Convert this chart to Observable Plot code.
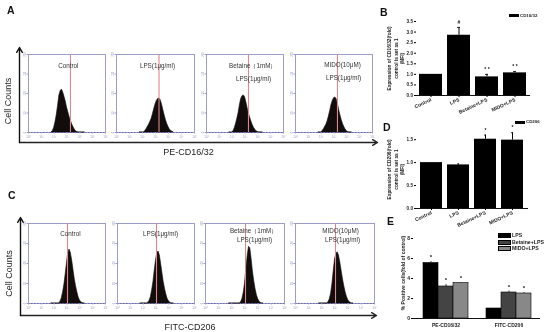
<!DOCTYPE html>
<html>
<head>
<meta charset="utf-8">
<script src="https://cdn.jsdelivr.net/npm/d3@7"></script>
<script src="https://cdn.jsdelivr.net/npm/@observablehq/plot@0.6"></script>
<style>
html,body{margin:0;padding:0;background:#fff;}
#fig{position:relative;width:550px;height:332px;overflow:hidden;font-family:"Liberation Sans",Arial,sans-serif;filter:blur(0.3px);}
#fig svg{position:absolute;overflow:visible;background:transparent;font-family:"Liberation Sans",Arial,sans-serif;}
.h{position:absolute;white-space:nowrap;line-height:1;}
</style>
</head>
<body>
<div id="fig"></div>
<script>
// ---------- Data: flow-cytometry histograms (log10 fluorescence bin -> counts)
const logBins = [1.8,1.9,2.0,2.1,2.2,2.3,2.4,2.5,2.6,2.7,2.8,2.9,3.0,3.1,3.2,3.3,3.4,3.5,3.6,3.7,3.8,3.9,4.0,4.1,4.2,4.3,4.4];
const cd16Control = [0,4,12,26,44,68,94,106,110,103,92,80,64,52,40,30,21,14,8,3,1,0,0,0,0,0,0];
const cd16Lps     = [0,0,0,0,3,8,14,20,27,35,47,60,72,81,86,87,83,72,58,44,32,22,14,8,4,2,0];
const cd16Betaine = [0,0,0,3,11,22,35,50,70,86,93,95,91,78,63,49,38,28,19,12,7,3,1,0,0,0,0];
const cd16Mido    = [0,0,0,3,8,14,20,29,41,55,70,81,88,90,86,74,58,44,32,22,14,8,3,1,0,0,0];
const cd206Control = [0,0,0,0,0,0,0,5,14,29,48,74,102,127,135,126,108,85,62,44,29,16,8,4,1,0,0];
const cd206Lps     = [0,0,0,0,0,0,2,7,16,33,54,82,108,126,130,120,99,76,54,37,23,12,6,2,0,0,0];
const cd206Betaine = [0,0,0,0,0,0,0,0,0,3,11,26,50,86,118,142,138,112,80,56,36,21,11,5,1,0,0];
const cd206Mido    = [0,0,0,0,0,0,0,3,10,24,48,80,110,124,128,120,103,82,62,44,29,17,9,4,1,0,0];
const logTicks = [0,1,2,3,4,5,6];
const logTickLabels = ["10⁰","10¹","10²","10³","10⁴","10⁵","10⁶"];
const countTicks = [0,50,100,150,200];
const gateCd16 = 3.27;
const gateCd206 = 3.04;

// ---------- Data: bar charts
const groups = ["Control","LPS","Betaine+LPS","MIDO+LPS"];
const cd16Mfi = [1.0,2.85,0.88,1.07];
const cd16Hi  = [1.0,3.22,1.0,1.13];
const cd16Sig = ["","#","* *","* *"];
const cd206Mfi = [1.0,0.95,1.51,1.49];
const cd206Hi  = [1.0,0.97,1.6,1.65];
const cd206Sig = ["","","*","*"];
const markers = ["PE-CD16/32","FITC-CD206"];
const treatments = ["LPS","Betaine+LPS","MIDO+LPS"];
const lpsPct     = [5.55,1.0];
const betainePct = [3.2,2.6];
const midoPct    = [3.55,2.5];
const lpsHi      = [5.7,1.0];
const betaineHi  = [3.4,2.75];
const midoHi     = [3.6,2.6];
const lpsSig     = ["*",""];
const betaineSig = ["*","*"];
const midoSig    = ["*","*"];

// ---------- Helpers
const fig = document.getElementById("fig");
function place(svg,left,top){svg.style.left=left+"px";svg.style.top=top+"px";fig.appendChild(svg);return svg;}
function htmlText(t,x,y,css){const d=document.createElement("div");d.className="h";d.textContent=t;d.style.left=x+"px";d.style.top=y+"px";d.style.cssText+=";"+css;fig.appendChild(d);}
function swatch(x,y,w,h,c){const d=document.createElement("div");d.style.cssText=`position:absolute;left:${x}px;top:${y}px;width:${w}px;height:${h}px;background:${c};border:0.5px solid #000;box-sizing:border-box`;fig.appendChild(d);}

const blue="#9c9cc8";
function hist(counts,gate,labels,box){
  const rows=logBins.map((b,i)=>({b,c:counts[i]}));
  place(Plot.plot({
    width:box.w,height:box.h,margin:0,
    x:{domain:[0,6]},y:{domain:[0,200]},
    marks:[
      Plot.frame({stroke:blue,strokeWidth:1}),
      Plot.ruleY([0],{stroke:"#6a6ab0",strokeWidth:1,strokeDasharray:"1.5 1.5"}),
      Plot.areaY(rows,{x:"b",y:"c",curve:"linear",fill:"#120c0c",stroke:"#120c0c",strokeWidth:0.6}),
      Plot.ruleX([gate],{stroke:"#d98a8a",strokeWidth:1.1}),
      Plot.axisX({ticks:logTicks,tickFormat:(d,i)=>logTickLabels[i],tickSize:1.5,tickPadding:1.5,fontSize:3,stroke:blue,fill:blue,label:null}),
      Plot.axisY({ticks:countTicks,tickSize:1.5,tickPadding:1,fontSize:2.6,stroke:blue,fill:blue,label:null,tickRotate:-90}),
      Plot.text(labels,{x:"x",y:"y",text:"t",fontSize:6.3,fill:"#333"})
    ]
  }),box.x,box.y);
}

function axesFrame(box,xLabel,dxLabel,dyLabel,dyCell){
  place(Plot.plot({
    width:box.w,height:box.h,margin:0,
    x:{domain:[0,1],axis:null},y:{domain:[0,1],axis:null},
    marks:[
      Plot.arrow([{a:0,b:0,c:1,d:0}],{x1:"a",y1:"b",x2:"c",y2:"d",stroke:"#222",strokeWidth:1.4,headLength:6,bend:false}),
      Plot.arrow([{a:0,b:0,c:0,d:1}],{x1:"a",y1:"b",x2:"c",y2:"d",stroke:"#111",strokeWidth:1.4,headLength:6,bend:false}),
      Plot.text([xLabel],{frameAnchor:"bottom",dx:dxLabel,dy:dyLabel,fontSize:9,fill:"#222",lineAnchor:"bottom",textAnchor:"middle"}),
      Plot.text(["Cell Counts"],{frameAnchor:"left",dx:-11,dy:dyCell,fontSize:9,fill:"#222",rotate:-90,textAnchor:"middle"})
    ]
  }),box.x,box.y);
}

function mfiBars(values,hi,sig,box,yMax,yTicks,fmt,pads,ylines){
  const rows=groups.map((g,i)=>({g,v:values[i],h:hi[i],s:sig[i]}));
  const errs=rows.filter(r=>r.h>r.v);
  const ml=box.ml,mb=24,mt=2,mr=2;
  place(Plot.plot({
    width:box.w+ml+mr,height:box.h+mt+mb,marginLeft:ml,marginRight:mr,marginTop:mt,marginBottom:mb,
    x:{domain:groups,paddingInner:pads[0],paddingOuter:pads[1],label:null},y:{domain:[0,yMax],label:null},
    marks:[
      Plot.barY(rows,{x:"g",y:"v",fill:"#000"}),
      Plot.ruleX(errs,{x:"g",y1:"v",y2:"h",stroke:"#000",strokeWidth:1}),
      Plot.tickY(errs,{x:"g",y:"h",stroke:"#000",strokeWidth:0.8,inset:10}),
      Plot.text(rows,{x:"g",y:"h",text:"s",dy:-5,fontSize:5,fontWeight:"bold",fill:"#111"}),
      Plot.ruleY([0],{stroke:"#111",strokeWidth:1}),
      Plot.ruleX([0],{frameAnchor:"left",stroke:"#111",strokeWidth:1}),
      Plot.axisX({tickRotate:-25,tickSize:2,tickPadding:2,fontSize:5,fontWeight:"bold",fill:"#222",label:null}),
      Plot.axisY({ticks:yTicks,tickFormat:fmt,tickSize:2,tickPadding:1.5,fontSize:4.6,fontWeight:"bold",fill:"#222",label:null}),
      ...ylines.map((t,i)=>Plot.text([t],{frameAnchor:"left",dx:-27+i*6.6,fontSize:4.8,fontWeight:"bold",fill:"#222",rotate:-90,textAnchor:"middle"}))
    ]
  }),box.x-ml,box.y-mt);
}

// ---------- Histogram rows
const rowA=[
 {x:28,y:54,w:77,h:78},{x:116,y:54,w:78,h:78},{x:206,y:54,w:77,h:78},{x:295,y:54,w:77,h:78}];
const rowC=[
 {x:28,y:223,w:77,h:80},{x:117,y:223,w:77,h:80},{x:205,y:223,w:79,h:80},{x:295,y:223,w:79,h:80}];

axesFrame({x:19,y:47,w:358,h:95},"PE-CD16/32",-10,12,6);
axesFrame({x:20,y:217,w:356,h:98},"FITC-CD206",-8.5,14,7);

hist(cd16Control,gateCd16,[{x:3.1,y:170,t:"Control"}],rowA[0]);
hist(cd16Lps,gateCd16,[{x:3.15,y:170,t:"LPS(1μg/ml)"}],rowA[1]);
hist(cd16Betaine,gateCd16,[{x:3.6,y:170,t:"Betaine（1mM）"},{x:3.66,y:138,t:"LPS(1μg/ml)"}],rowA[2]);
hist(cd16Mido,gateCd16,[{x:3.66,y:173,t:"MIDO(10μM)"},{x:3.74,y:141,t:"LPS(1μg/ml)"}],rowA[3]);

hist(cd206Control,gateCd206,[{x:3.27,y:175,t:"Control"}],rowC[0]);
hist(cd206Lps,gateCd206,[{x:3.35,y:175,t:"LPS(1μg/ml)"}],rowC[1]);
hist(cd206Betaine,gateCd206,[{x:3.65,y:182,t:"Betaine（1mM）"},{x:3.72,y:160,t:"LPS(1μg/ml)"}],rowC[2]);
hist(cd206Mido,gateCd206,[{x:3.42,y:182,t:"MIDO(10μM)"},{x:3.57,y:160,t:"LPS(1μg/ml)"}],rowC[3]);

// ---------- Bars B and D
const f1=d3.format(".1f");
mfiBars(cd16Mfi,cd16Hi,cd16Sig,{x:416,y:21,w:114,h:74,ml:30},3.5,[0,.5,1,1.5,2,2.5,3,3.5],f1,[0.175,0.088],
  ["Expression of CD16/32(fold)","control is set as 1","(MFI)"]);
mfiBars(cd206Mfi,cd206Hi,cd206Sig,{x:416,y:130,w:112,h:78,ml:30},1.7,[0,.5,1,1.5],f1,[0.18,0.11],
  ["Expression of CD206(fold)","control is set as 1","(MFI)"]);

// ---------- Bars E
const series=[[lpsPct,lpsHi,lpsSig],[betainePct,betaineHi,betaineSig],[midoPct,midoHi,midoSig]];
const eRows=[];
markers.forEach((m,i)=>treatments.forEach((t,j)=>eRows.push({m,t,v:series[j][0][i],h:series[j][1][i],s:series[j][2][i]})));
const eErr=eRows.filter(r=>r.h>r.v);
const eColors=["#000000","#444444","#888888"];
const eShift=[-15,0,15];
place(Plot.plot({
  width:127+30+2,height:91+2+12,marginLeft:30,marginRight:2,marginTop:2,marginBottom:12,
  x:{axis:null,domain:markers,paddingInner:0.286,paddingOuter:0.15},
  y:{domain:[0,9.1],label:null},
  marks:[
    ...treatments.map((t,j)=>Plot.barY(eRows.filter(r=>r.t===t),{
      x:"m",y:"v",fill:eColors[j],stroke:"#000",strokeWidth:0.6,
      insetLeft:j*15,insetRight:(2-j)*15
    })),
    ...treatments.map((t,j)=>Plot.ruleX(eErr.filter(r=>r.t===t),{x:"m",y1:"v",y2:"h",stroke:"#111",strokeWidth:0.8,dx:eShift[j]})),
    ...treatments.map((t,j)=>Plot.text(eRows.filter(r=>r.t===t),{x:"m",y:"h",text:"s",dx:eShift[j],dy:-4,fontSize:6,fontWeight:"bold",fill:"#111"})),
    Plot.ruleY([0],{stroke:"#111",strokeWidth:1}),
    Plot.ruleX([0],{frameAnchor:"left",stroke:"#111",strokeWidth:1}),
    Plot.axisY({ticks:[0,2,4,6,8],tickSize:2,tickPadding:1.5,fontSize:5,fontWeight:"bold",fill:"#222",label:null}),
    Plot.text(markers,{x:d=>d,frameAnchor:"bottom",dy:8,fontSize:5,fontWeight:"bold",fill:"#222"}),
    Plot.text(["% Positive cells(fold of control)"],{frameAnchor:"left",dx:-10,fontSize:5,fontWeight:"bold",fill:"#222",rotate:-90,textAnchor:"middle"})
  ]
}),413-30,227-2);

// ---------- Legends
swatch(509,14,10,3,"#000");
htmlText("CD16/32",520,13.5,"font-size:4.4px;font-weight:bold;color:#222");
swatch(515,120.5,10,3,"#000");
htmlText("CD206",526,120,"font-size:4.4px;font-weight:bold;color:#222");
treatments.forEach((t,j)=>{
  swatch(498,233+j*6.6,13,5,eColors[j]);
  htmlText(t,512,233+j*6.6,"font-size:5.2px;font-weight:bold;color:#222");
});

// ---------- Panel letters
[["A",7,5],["C",8,190],["B",380,7],["D",383,122],["E",387,216]].forEach(([t,x,y])=>
  htmlText(t,x,y,"font-size:10.5px;font-weight:bold;color:#111"));
</script>
</body>
</html>
